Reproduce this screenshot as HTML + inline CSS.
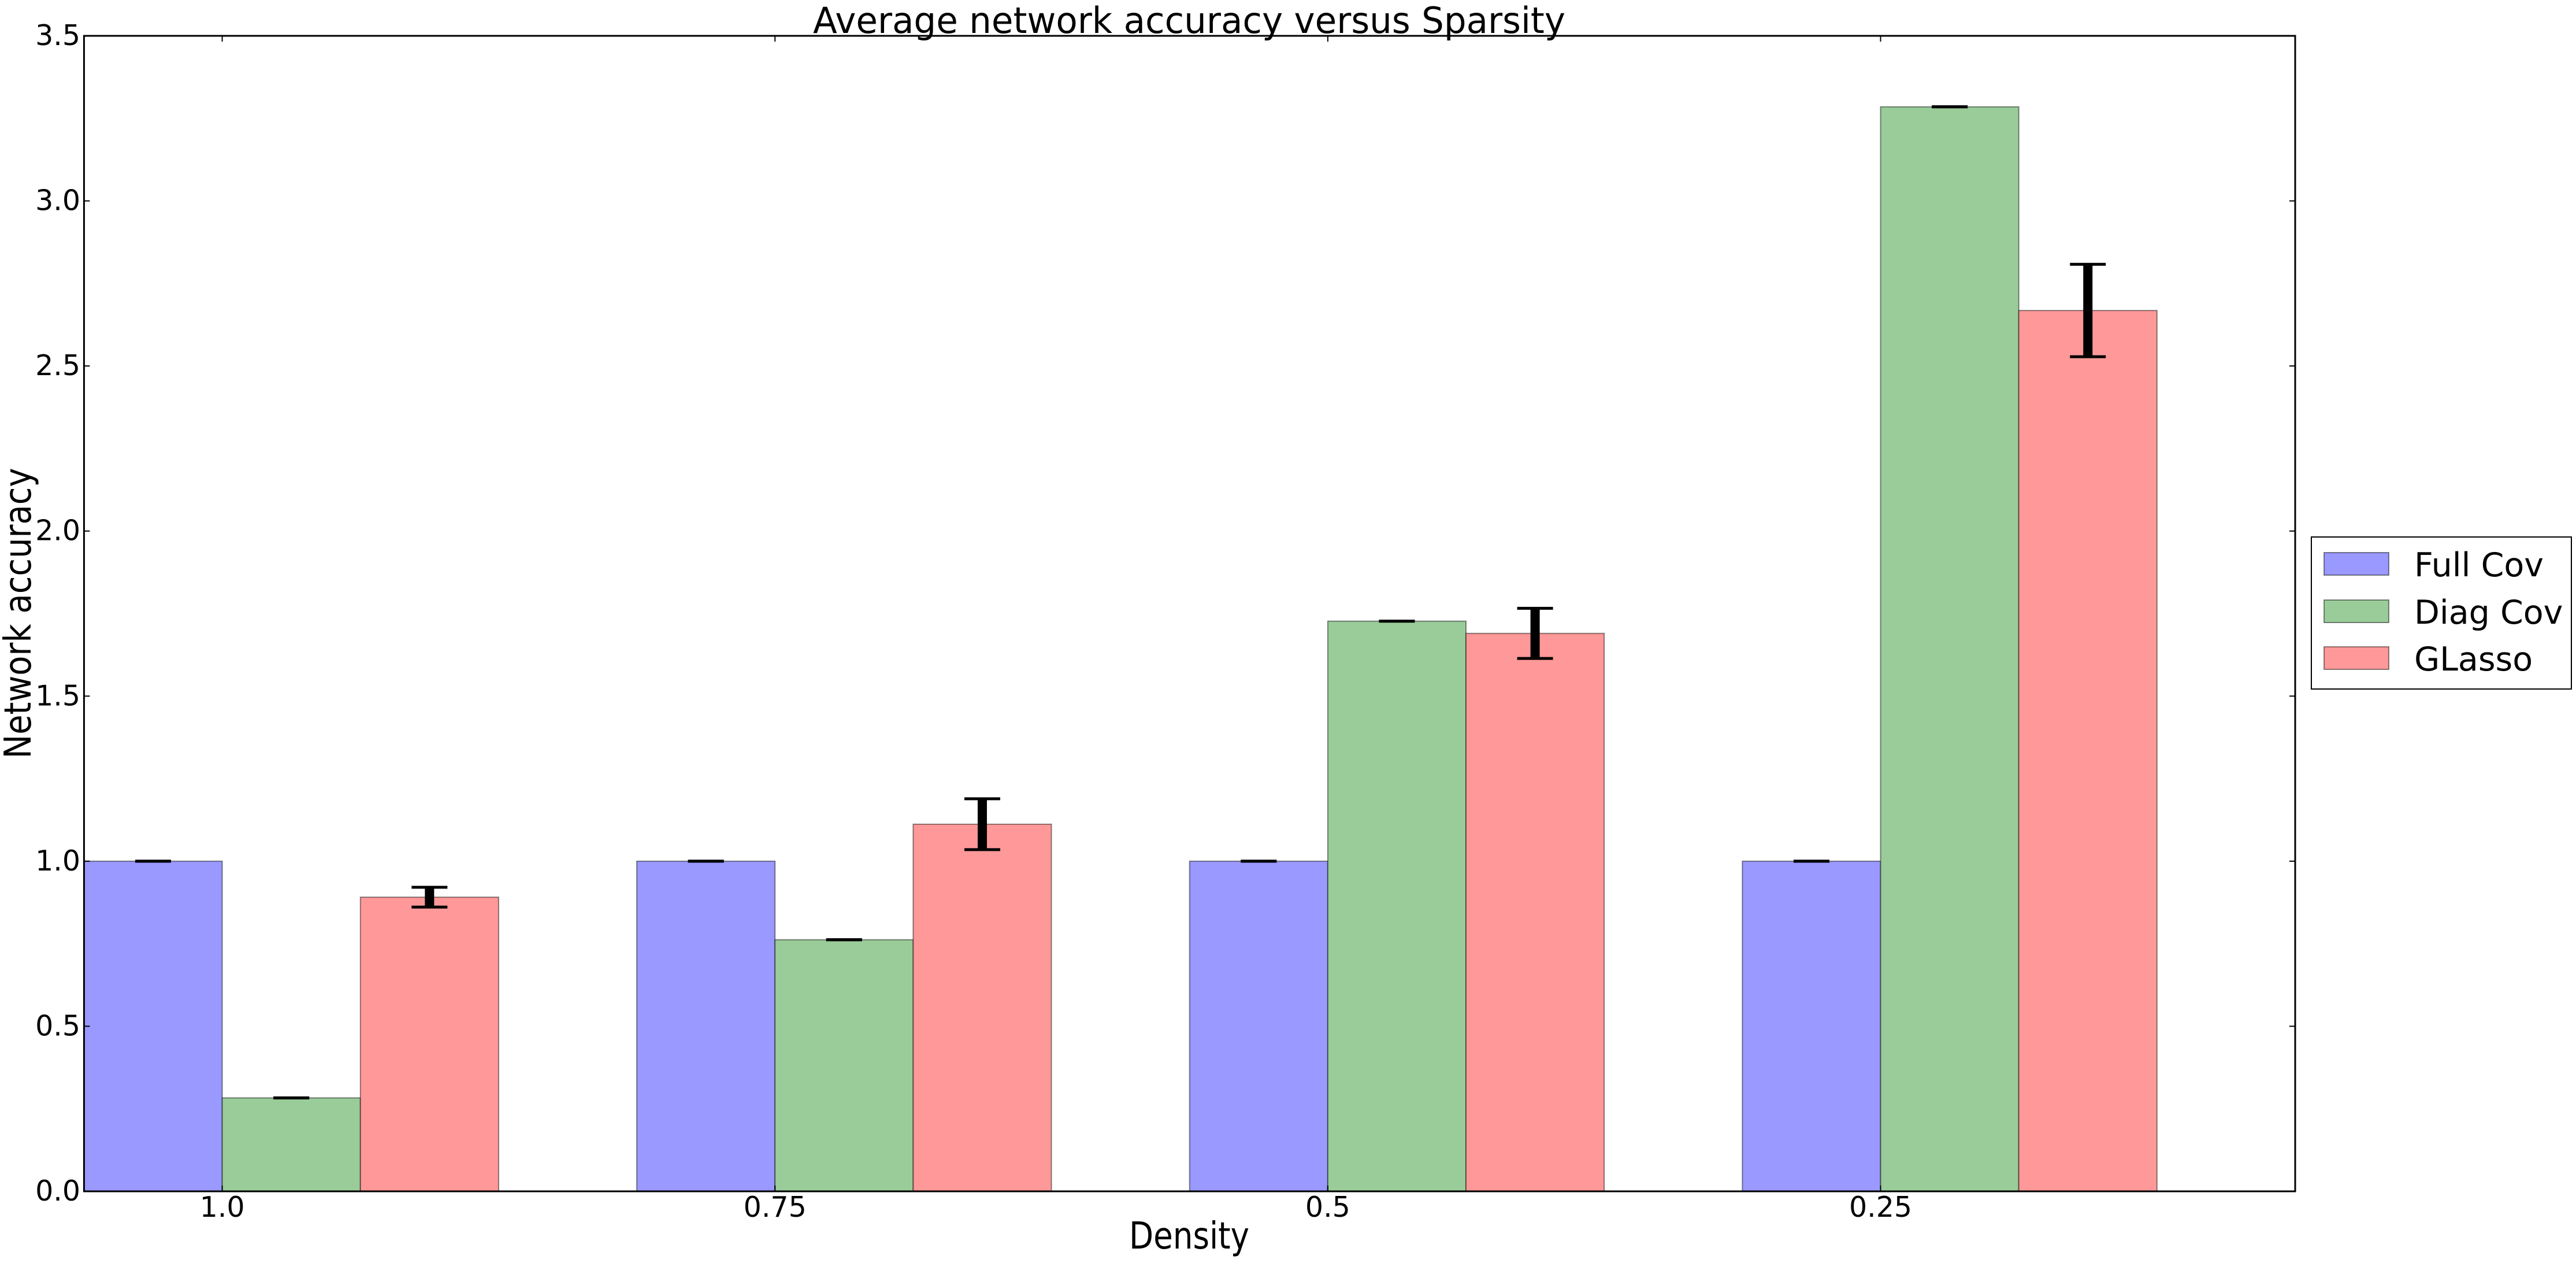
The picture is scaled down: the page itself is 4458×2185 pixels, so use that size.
<!DOCTYPE html>
<html><head><meta charset="utf-8"><style>
html,body{margin:0;padding:0;background:#fff;}
svg{display:block;font-family:"DejaVu Sans","Liberation Sans",sans-serif;}
</style></head>
<body>
<svg id="chart" width="4458" height="2185" viewBox="0 0 4458 2185" xmlns="http://www.w3.org/2000/svg">
<rect x="0" y="0" width="4458" height="2185" fill="#fff"/>
<text x="2058" y="57" font-size="62" text-anchor="middle" textLength="1302" lengthAdjust="spacingAndGlyphs">Average network accuracy versus Sparsity</text>
<g id="bars"></g>
<g id="errs"></g>
<g id="axes"></g>
<text transform="translate(53,1061) rotate(-90)" font-size="64" text-anchor="middle" textLength="503" lengthAdjust="spacingAndGlyphs">Network accuracy</text>
<text x="2058" y="2160" font-size="64" text-anchor="middle" textLength="208" lengthAdjust="spacingAndGlyphs">Density</text>
<g>
<rect x="4000" y="929" width="450" height="263" fill="#fff" stroke="#000" stroke-width="2"/>
<g id="legend-items"></g>
</g>
</svg>
<script>
const categories = ["1.0", "0.75", "0.5", "0.25"];
const seriesNames = ["Full Cov", "Diag Cov", "GLasso"];
const fullCov = [1.0, 1.0, 1.0, 1.0];
const diagCov = [0.283, 0.762, 1.727, 3.285];
const glasso = [0.891, 1.112, 1.690, 2.668];
const fullErr = [0, 0, 0, 0];
const diagErr = [0, 0, 0, 0];
const glassoErr = [0.03, 0.077, 0.076, 0.14];
const yTicks = ["0.0","0.5","1.0","1.5","2.0","2.5","3.0","3.5"];

const NS = "http://www.w3.org/2000/svg";
const L = 145.4, R = 3972, T = 62, B = 2061;
const xMin = 0, xMax = 4, yMin = 0, yMax = 3.5;
const xs = v => L + (v - xMin) / (xMax - xMin) * (R - L);
const ys = v => B - (v - yMin) / (yMax - yMin) * (B - T);
const barW = 0.25;
const colors = ["#9999ff", "#99cc99", "#ff9999"];
const series = [fullCov, diagCov, glasso];
const errs = [fullErr, diagErr, glassoErr];
const keys = ["full-cov", "diag-cov", "glasso"];

function mk(tag, attrs, parent) {
  const e = document.createElementNS(NS, tag);
  for (const k in attrs) e.setAttribute(k, attrs[k]);
  parent.appendChild(e);
  return e;
}
const gb = document.getElementById("bars");
const ge = document.getElementById("errs");
const ga = document.getElementById("axes");

series.forEach((vals, s) => {
  vals.forEach((v, i) => {
    const x0 = xs(i + s * barW), x1 = xs(i + (s + 1) * barW);
    const r = mk("rect", {x: x0, y: ys(v), width: x1 - x0, height: ys(0) - ys(v),
      fill: colors[s], stroke: "rgba(0,0,0,0.45)", "stroke-width": 2}, gb);
    
    
  });
});
series.forEach((vals, s) => {
  vals.forEach((v, i) => {
    const cx = xs(i + (s + 0.5) * barW);
    const e = errs[s][i];
    const g = mk("g", {}, ge);
    
    
    if (e > 0) mk("line", {x1: cx, x2: cx, y1: ys(v + e), y2: ys(v - e), stroke: "#000", "stroke-width": 16}, g);
    mk("line", {x1: cx - 31, x2: cx + 31, y1: ys(v + e), y2: ys(v + e), stroke: "#000", "stroke-width": 5}, g);
    mk("line", {x1: cx - 31, x2: cx + 31, y1: ys(v - e), y2: ys(v - e), stroke: "#000", "stroke-width": 5}, g);
  });
});

const fr = mk("rect", {x: L, y: T, width: R - L, height: B - T, fill: "none", stroke: "#000", "stroke-width": 3}, ga);


yTicks.forEach(t => {
  const y = ys(parseFloat(t));
  mk("line", {x1: L, x2: L + 10, y1: y, y2: y, stroke: "#000", "stroke-width": 2}, ga);
  mk("line", {x1: R, x2: R - 10, y1: y, y2: y, stroke: "#000", "stroke-width": 2}, ga);
  const tx = mk("text", {x: 139, y: y + 16, "font-size": 49, "text-anchor": "end"}, ga);
  tx.textContent = t;
  
  
});
categories.forEach((c, i) => {
  const x = xs(i + barW);
  mk("line", {x1: x, x2: x, y1: B, y2: B - 10, stroke: "#000", "stroke-width": 2}, ga);
  mk("line", {x1: x, x2: x, y1: T, y2: T + 10, stroke: "#000", "stroke-width": 2}, ga);
  const tx = mk("text", {x: x, y: 2105, "font-size": 49, "text-anchor": "middle"}, ga);
  tx.textContent = c;
  
  
});

const gl = document.getElementById("legend-items");
const rowY = [956, 1038, 1119];
seriesNames.forEach((n, s) => {
  const g = mk("g", {}, gl);
  
  
  mk("rect", {x: 4022, y: rowY[s], width: 112, height: 39, fill: colors[s], stroke: "rgba(0,0,0,0.45)", "stroke-width": 2}, g);
  const t = mk("text", {x: 4178, y: rowY[s] + 41, "font-size": 57}, g);
  t.textContent = n;
});
</script>
</body></html>
